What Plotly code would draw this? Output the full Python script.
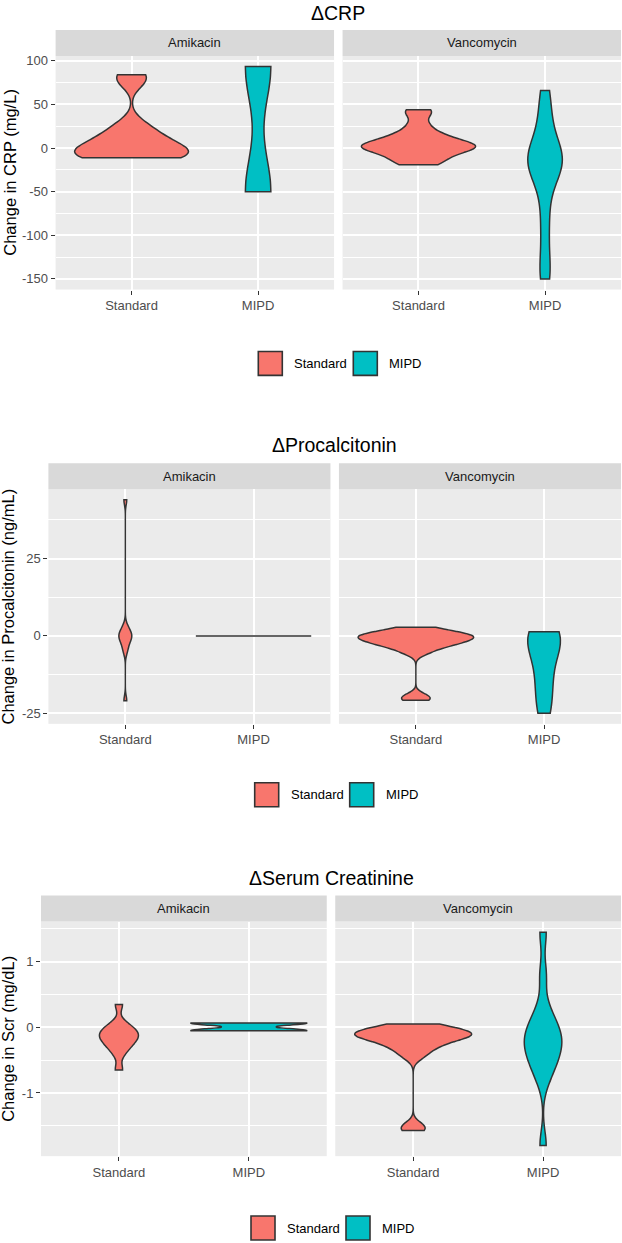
import numpy as np
import plotly.graph_objects as go

W, H = 622, 1243
FONT = "Liberation Sans, Arial, Helvetica, sans-serif"

groups = ["Standard", "MIPD"]
facets = ["Amikacin", "Vancomycin"]

# ---------------- data ----------------
crp_amikacin_standard = [-11, -11, -10, -8, -5, -2, 2, 6, 12, 18, 27, 77, 84]
crp_amikacin_mipd = [93.5, -50]
crp_vancomycin_standard = [-19, -17, -13, -9, -6, -3, -1, 0, 1, 2, 3, 5, 7, 9, 12, 15, 20, 28, 40, 44]
crp_vancomycin_mipd = [66, 45, 25, 5, -3, -8, -13, -17, -22, -26, -40, -70, -100, -135, -150]
crp_ticks = [-150, -100, -50, 0, 50, 100]

pct_amikacin_standard = [44, 3, 1.5, 0.5, 0, -0.5, -1.5, -3, -5, -21]
pct_amikacin_mipd = [0, 0, 0, 0, 0]
pct_vancomycin_standard = [2.8, 1.5, 1, 0.5, 0, 0, -0.5, -1, -1.5, -2, -2.5, -3, -4, -5.5, -19.5, -20.8]
pct_vancomycin_mipd = [1.3, 0.8, 0, -2.5, -7, -13, -19, -25]
pct_ticks = [-25, 0, 25]

scr_amikacin_standard = [0.35, 0.05, 0, -0.05, -0.1, -0.12, -0.15, -0.2, -0.25, -0.3, -0.4, -0.65]
scr_amikacin_mipd = [0.065, -0.05]
scr_vancomycin_standard = [0.05, 0.01, -0.02, -0.05, -0.07, -0.09, -0.1, -0.11, -0.13, -0.15, -0.18,
                           -0.21, -0.25, -0.3, -0.36, -0.45, -1.5, -1.57]
scr_vancomycin_mipd = [1.45, 0.8, 0.3, 0.1, 0, -0.08, -0.16, -0.24, -0.32, -0.4, -0.5, -0.62, -0.8, -1.8]
scr_ticks = [-1, 0, 1]

# ---------------- styling ----------------
fill_colors = {"Standard": "#F8766D", "MIPD": "#00BFC4"}
OUTLINE = "#333333"
PANEL_BG = "#EBEBEB"
STRIP_BG = "#D9D9D9"

panels = [
    dict(title="ΔCRP", ytitle="Change in CRP (mg/L)", ticks=crp_ticks,
         values={("Amikacin", "Standard"): crp_amikacin_standard,
                 ("Amikacin", "MIPD"): crp_amikacin_mipd,
                 ("Vancomycin", "Standard"): crp_vancomycin_standard,
                 ("Vancomycin", "MIPD"): crp_vancomycin_mipd},
         geom=dict(title_y=11, strip_top=28, plot_top=54, plot_bot=288, left=55.6,
                   legend_y=362, ytitle_x=10)),
    dict(title="ΔProcalcitonin", ytitle="Change in Procalcitonin (ng/mL)", ticks=pct_ticks,
         values={("Amikacin", "Standard"): pct_amikacin_standard,
                 ("Amikacin", "MIPD"): pct_amikacin_mipd,
                 ("Vancomycin", "Standard"): pct_vancomycin_standard,
                 ("Vancomycin", "MIPD"): pct_vancomycin_mipd},
         geom=dict(title_y=444, strip_top=462, plot_top=488, plot_bot=723, left=48.4,
                   legend_y=794, ytitle_x=8)),
    dict(title="ΔSerum Creatinine", ytitle="Change in Scr (mg/dL)", ticks=scr_ticks,
         values={("Amikacin", "Standard"): scr_amikacin_standard,
                 ("Amikacin", "MIPD"): scr_amikacin_mipd,
                 ("Vancomycin", "Standard"): scr_vancomycin_standard,
                 ("Vancomycin", "MIPD"): scr_vancomycin_mipd},
         geom=dict(title_y=877, strip_top=895, plot_top=921, plot_bot=1156, left=41,
                   legend_y=1228, ytitle_x=8)),
]

RIGHT = 621
GAP = 8.5


def nrd0(vals):
    """Silverman's rule as used by R's bw.nrd0 (ggplot2 default)."""
    x = np.asarray(vals, dtype=float)
    sd = x.std(ddof=1)
    if sd == 0:
        return None
    q75, q25 = np.percentile(x, [75, 25])
    lo = min(sd, (q75 - q25) / 1.34)
    if lo == 0:
        lo = sd
    return float(0.9 * lo * len(x) ** -0.2)


def fmt(v):
    return "%g" % v


px = lambda v: v / W
py = lambda v: 1 - v / H

fig = go.Figure()
layout = dict(
    width=W, height=H, margin=dict(l=0, r=0, t=0, b=0),
    paper_bgcolor="white", plot_bgcolor=PANEL_BG,
    violinmode="overlay", violingap=0.1, violingroupgap=0, showlegend=False,
    font=dict(family=FONT, color="#4D4D4D", size=13),
    shapes=[], annotations=[],
)

for i, p in enumerate(panels):
    g = p["geom"]
    allv = np.concatenate([np.asarray(v, float) for v in p["values"].values()])
    lo, hi = allv.min(), allv.max()
    pad = 0.05 * (hi - lo)
    yrange = [lo - pad, hi + pad]
    ticks = p["ticks"]
    step = ticks[1] - ticks[0]
    minor = [t + step / 2 for t in [ticks[0] - step] + ticks]
    minor = [m for m in minor if yrange[0] <= m <= yrange[1]]

    fw = (RIGHT - g["left"] - GAP) / 2
    centre = (g["left"] + RIGHT) / 2
    for j, facet in enumerate(facets):
        k = i * 2 + j + 1
        x0 = g["left"] + j * (fw + GAP)
        x1 = x0 + fw
        xa = "xaxis" if k == 1 else f"xaxis{k}"
        ya = "yaxis" if k == 1 else f"yaxis{k}"
        xr = "x" if k == 1 else f"x{k}"
        yr = "y" if k == 1 else f"y{k}"
        layout[xa] = dict(
            domain=[px(x0), px(x1)], anchor=yr, type="category",
            categoryorder="array", categoryarray=groups, range=[-0.6, 1.6],
            showgrid=True, gridcolor="white", gridwidth=2, zeroline=False, showline=False,
            ticks="outside", ticklen=4, tickwidth=1.4, tickcolor=OUTLINE,
            tickfont=dict(size=13, color="#4D4D4D", family=FONT), fixedrange=True,
        )
        layout[ya] = dict(
            domain=[py(g["plot_bot"]), py(g["plot_top"])], anchor=xr, range=yrange,
            tickmode="array", tickvals=ticks, ticktext=[fmt(t) for t in ticks],
            showticklabels=(j == 0), ticks="outside" if j == 0 else "",
            ticklen=4, tickwidth=1.4, tickcolor=OUTLINE,
            tickfont=dict(size=13, color="#4D4D4D", family=FONT),
            showgrid=True, gridcolor="white", gridwidth=2, zeroline=False, showline=False,
            minor=dict(tickmode="array", tickvals=minor, showgrid=True,
                       gridcolor="white", gridwidth=1, ticks=""),
            fixedrange=True,
        )
        # strip
        layout["shapes"].append(dict(type="rect", xref="paper", yref="paper",
                                     x0=px(x0), x1=px(x1), y0=py(g["plot_top"]), y1=py(g["strip_top"]),
                                     fillcolor=STRIP_BG, line=dict(width=0), layer="below"))
        layout["annotations"].append(dict(text=facet, xref="paper", yref="paper",
                                          x=px((x0 + x1) / 2), y=py((g["strip_top"] + g["plot_top"]) / 2),
                                          xanchor="center", yanchor="middle", showarrow=False,
                                          font=dict(size=13, color="#1A1A1A", family=FONT)))
        for grp in groups:
            vals = p["values"][(facet, grp)]
            fig.add_trace(go.Violin(
                x=[grp] * len(vals), y=vals, xaxis=xr, yaxis=yr, name=grp,
                fillcolor=fill_colors[grp], line=dict(color=OUTLINE, width=1.5),
                opacity=1, points=False, spanmode="hard", scalemode="width",
                scalegroup=f"panel{i}_{facet}", bandwidth=nrd0(vals),
                box=dict(visible=False), meanline=dict(visible=False),
                showlegend=False, hoverinfo="y",
            ))

    # title
    layout["annotations"].append(dict(text=p["title"], xref="paper", yref="paper",
                                      x=px(centre), y=py(g["title_y"]), xanchor="center",
                                      yanchor="middle", showarrow=False,
                                      font=dict(size=19.5, color="black", family=FONT)))
    # y-axis title
    layout["annotations"].append(dict(text=p["ytitle"], xref="paper", yref="paper",
                                      x=px(g["ytitle_x"]), y=py((g["plot_top"] + g["plot_bot"]) / 2),
                                      xanchor="center", yanchor="middle", textangle=-90,
                                      showarrow=False,
                                      font=dict(size=16.5, color="black", family=FONT)))
    # legend (ggplot style keys)
    ly = g["legend_y"]
    key_offsets = {"Standard": (-80, -46), "MIPD": (15, 49)}
    for grp in groups:
        kx, tx = key_offsets[grp]
        layout["shapes"].append(dict(type="rect", xref="paper", yref="paper",
                                     x0=px(centre + kx), x1=px(centre + kx + 24),
                                     y0=py(ly + 12), y1=py(ly - 12),
                                     fillcolor=fill_colors[grp], line=dict(color=OUTLINE, width=1.6)))
        layout["annotations"].append(dict(text=grp, xref="paper", yref="paper",
                                          x=px(centre + tx), y=py(ly), xanchor="left",
                                          yanchor="middle", showarrow=False,
                                          font=dict(size=13, color="black", family=FONT)))

fig.update_layout(**layout)
fig.write_html("out.html")
